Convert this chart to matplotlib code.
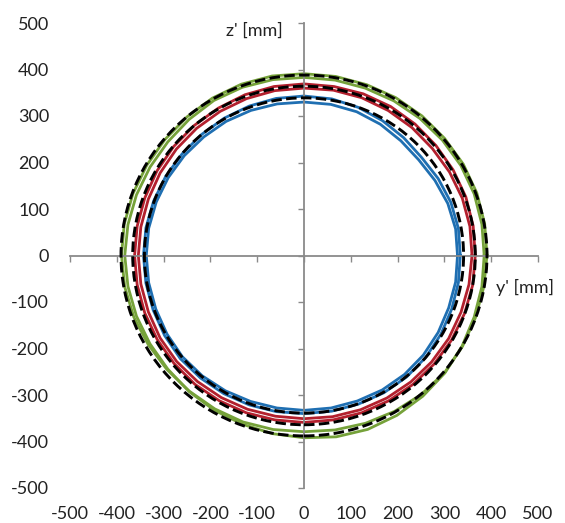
import numpy as np
import matplotlib
matplotlib.use("Agg")
import matplotlib.pyplot as plt
from matplotlib.patches import Ellipse

plt.rcParams['font.family'] = ['Lato', 'DejaVu Sans']

# ---------------- data ----------------
angles_deg = list(range(0, 360, 10))

blue_pass1 = [334, 335, 334, 331, 328, 331, 335, 339, 342, 343, 343, 342, 341, 340, 340, 341, 342, 343,
              343, 343, 343, 344, 345, 344, 343, 342, 341, 340, 340, 340, 341, 341, 340, 338, 336, 335]
blue_pass2 = [328, 329, 327, 323, 320, 322, 326, 329, 330, 330, 331, 332, 333, 333, 334, 335, 336, 337,
              337, 337, 337, 338, 339, 338, 336, 334, 333, 333, 333, 333, 334, 334, 333, 331, 329, 329]

red_pass1 = [366, 367, 368, 368, 368, 369, 370, 370, 369, 369, 369, 368, 366, 365, 364, 363, 362, 362,
             362, 362, 362, 362, 362, 362, 361, 360, 359, 359, 359, 360, 361, 362, 363, 364, 365, 366]
red_pass2 = [359, 360, 360, 359, 358, 359, 360, 361, 361, 360, 360, 359, 358, 357, 356, 355, 354, 354,
             354, 354, 354, 355, 355, 354, 353, 352, 351, 351, 352, 353, 354, 355, 356, 357, 357, 358]

green_pass1 = [391, 392, 393, 393, 392, 392, 392, 391, 391, 391, 392, 392, 391, 389, 388, 388, 389, 390,
               390, 389, 387, 384, 382, 381, 381, 381, 380, 379, 381, 384, 387, 390, 392, 391, 390, 390]
green_pass2 = [385, 386, 387, 387, 386, 385, 384, 383, 383, 383, 384, 385, 385, 382, 380, 380, 381, 382,
               383, 382, 381, 380, 380, 382, 384, 386, 389, 392, 396, 398, 397, 395, 393, 390, 387, 386]

# reference (dashed) circles: radius in y' and z' direction
ref_ry = [341, 366, 391]
ref_rz = [339, 364, 388]

ticks = [-500, -400, -300, -200, -100, 0, 100, 200, 300, 400, 500]

BLUE = '#1f6fb2'
RED = '#b3202e'
GREEN = '#76a23a'
AXIS = '#8a8a8a'

# ---------------- figure ----------------
fig = plt.figure(figsize=(5.65, 5.23), dpi=100)
pos = [70 / 565, 35 / 523, 468 / 565, 465 / 523]

# label axes (outer tick labels)
lab = fig.add_axes(pos)
lab.set_xlim(-500, 500)
lab.set_ylim(-500, 500)
lab.set_xticks(ticks)
lab.set_yticks(ticks)
lab.set_xticklabels([str(t) for t in ticks])
lab.set_yticklabels([str(t) for t in ticks])
lab.tick_params(axis='x', length=0, pad=13, labelsize=13, colors='#222222')
lab.tick_params(axis='y', length=0, pad=15, labelsize=13, colors='#222222')
for s in lab.spines.values():
    s.set_visible(False)
lab.patch.set_alpha(0)

ax = fig.add_axes(pos, sharex=lab, sharey=lab)
ax.patch.set_alpha(0)
ax.spines['left'].set_position(('data', 0))
ax.spines['bottom'].set_position(('data', 0))
ax.spines['right'].set_visible(False)
ax.spines['top'].set_visible(False)
for s in ('left', 'bottom'):
    ax.spines[s].set_color(AXIS)
    ax.spines[s].set_linewidth(1.3)
ax.tick_params(axis='both', direction='out', length=4, width=1.0, color=AXIS,
               labelbottom=False, labelleft=False)

th = np.deg2rad(np.array(angles_deg + [angles_deg[0]]))


def draw(r1, r2, color):
    for r in (r1, r2):
        rr = np.array(r + [r[0]], dtype=float)
        ax.plot(rr * np.cos(th), rr * np.sin(th), color=color, lw=2.0, zorder=2,
                solid_joinstyle='round')


draw(blue_pass1, blue_pass2, BLUE)
draw(red_pass1, red_pass2, RED)
draw(green_pass1, green_pass2, GREEN)

for ry, rz in zip(ref_ry, ref_rz):
    e = Ellipse((0, 0), 2 * ry, 2 * rz, fill=False, edgecolor='black', lw=2.1,
                linestyle=(0, (3.6, 1.5)), zorder=3)
    ax.add_patch(e)

ax.text(-45, 483, "z' [mm]", ha='right', va='center', fontsize=13, color='#222222')
ax.text(410, -68, "y' [mm]", ha='left', va='center', fontsize=13, color='#222222', clip_on=False)

fig.savefig('out.png', dpi=100)
